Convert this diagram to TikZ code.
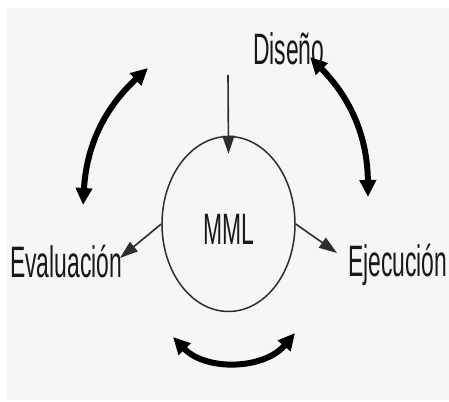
\documentclass[tikz,border=0pt]{standalone}
\usepackage{fontspec}
\setmainfont{Liberation Sans}
\usepackage{graphicx}
\usetikzlibrary{shapes.geometric,arrows.meta}
\definecolor{bgfill}{RGB}{246,246,246}
\definecolor{inkgray}{RGB}{45,45,45}
\tikzstyle{word}=[inner sep=0, anchor=base west, text=black!90, font=\fontsize{44}{48}\selectfont]
\tikzstyle{thinarrow}=[draw=inkgray, line width=1.6pt, -{Triangle[length=18pt,width=12pt]}]
\tikzstyle{bigarrow}=[draw=black, line width=6pt, {Triangle[length=17pt,width=16pt]}-{Triangle[length=17pt,width=16pt]}]
\newcommand{\narrow}[1]{\scalebox{0.52}[1]{#1}}

\begin{document}
\begin{tikzpicture}[x=1pt,y=1pt]
\useasboundingbox ( 0 , 0 ) rectangle ( 449 , 401 );
\fill[bgfill] ( 7 , 1 ) rectangle ( 449 , 393 );
\node[draw=inkgray, line width=1.5pt, ellipse, minimum width=133pt, minimum height=175pt, inner sep=0, text=black!90, font=\fontsize{44}{48}\selectfont, text height=42pt, text depth=0pt] (mml) at ( 228.5 , 177 ){\narrow{MML}};
\node[word] (diseno) at ( 253 , 336 ){\narrow{Diseño}};
\node[word] (evaluacion) at ( 10 , 123 ){\narrow{Evaluación}};
\node[word] (ejecucion) at ( 348 , 124 ){\narrow{Ejecución}};
\coordinate (entry) at ( 228 , 326 );
\coordinate (evaltip) at ( 120 , 143 );
\coordinate (ejectip) at ( 337 , 148 );
\draw[thinarrow] (entry) -- ([yshift=-18pt]mml.north);
\draw[thinarrow] (mml.west) -- (evaltip);
\draw[thinarrow] (mml.east) -- (ejectip);
\coordinate (left1) at ( 83 , 196 );
\coordinate (left2) at ( 148 , 333 );
\coordinate (right1) at ( 310 , 344 );
\coordinate (right2) at ( 368 , 204 );
\coordinate (low1) at ( 173 , 64 );
\coordinate (low2) at ( 295 , 68 );
\draw[bigarrow] (left1) to[bend left=22] (left2);
\draw[bigarrow] (right1) to[bend left=22] (right2);
\draw[bigarrow] (low1) to[bend right=48] (low2);
\end{tikzpicture}
\end{document}
